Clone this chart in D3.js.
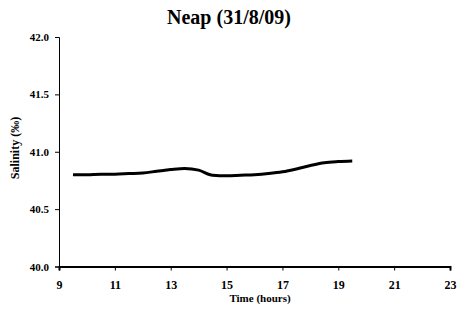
<!DOCTYPE html>
<html>
<head>
<meta charset="utf-8">
<script src="https://cdn.jsdelivr.net/npm/d3@7"></script>
<style>
body { margin: 0; background: #fff; }
text { font-family: "Liberation Serif", "DejaVu Serif", serif; font-weight: bold; }
</style>
</head>
<body>
<div id="chart"></div>
<script>
var width = 462, height = 311;

var hours = [9.5, 10, 10.5, 11, 11.5, 12, 12.5, 13, 13.5, 14, 14.5, 15, 15.5, 16, 16.5, 17, 17.5, 18, 18.5, 19, 19.5];
var salinity = [40.80, 40.80, 40.805, 40.805, 40.81, 40.815, 40.83, 40.845, 40.855, 40.84, 40.795, 40.79, 40.795, 40.80, 40.81, 40.825, 40.85, 40.88, 40.905, 40.915, 40.92];
var xTicks = [9, 11, 13, 15, 17, 19, 21, 23];
var yTicks = [40.0, 40.5, 41.0, 41.5, 42.0];

var svg = d3.select("#chart")
    .append("svg")
    .attr("width", width)
    .attr("height", height);

var x = d3.scaleLinear().domain([9, 23]).range([59, 450]);
var y = d3.scaleLinear().domain([40, 42]).range([266.5, 37]);

// title
svg.append("text")
    .attr("x", 229)
    .attr("y", 24)
    .attr("text-anchor", "middle")
    .style("font-size", "20px")
    .text("Neap (31/8/09)");

// axes
var xAxis = svg.append("g")
    .attr("transform", "translate(0," + y(40) + ")")
    .call(d3.axisBottom(x).tickValues(xTicks).tickSize(4).tickPadding(10).tickFormat(d3.format("d")));
xAxis.select(".domain").attr("stroke-width", 2);
xAxis.selectAll("text").style("font-size", "12px");

var yAxis = svg.append("g")
    .attr("transform", "translate(" + x(9) + ",0)")
    .call(d3.axisLeft(y).tickValues(yTicks).tickSize(4).tickPadding(6).tickFormat(d3.format(".1f")));
yAxis.selectAll("text").style("font-size", "11px");

// axis titles
svg.append("text")
    .attr("x", 260)
    .attr("y", 302)
    .attr("text-anchor", "middle")
    .style("font-size", "11px")
    .text("Time (hours)");

svg.append("text")
    .attr("transform", "translate(19,148) rotate(-90)")
    .attr("text-anchor", "middle")
    .style("font-size", "12px")
    .text("Salinity (‰)");

// series
var data = hours.map(function(h, i) { return {h: h, s: salinity[i]}; });
svg.append("path")
    .datum(data)
    .attr("fill", "none")
    .attr("stroke", "black")
    .attr("stroke-width", 3)
    .attr("d", d3.line()
        .x(function(d) { return x(d.h); })
        .y(function(d) { return y(d.s); })
        .curve(d3.curveMonotoneX));
</script>
</body>
</html>
